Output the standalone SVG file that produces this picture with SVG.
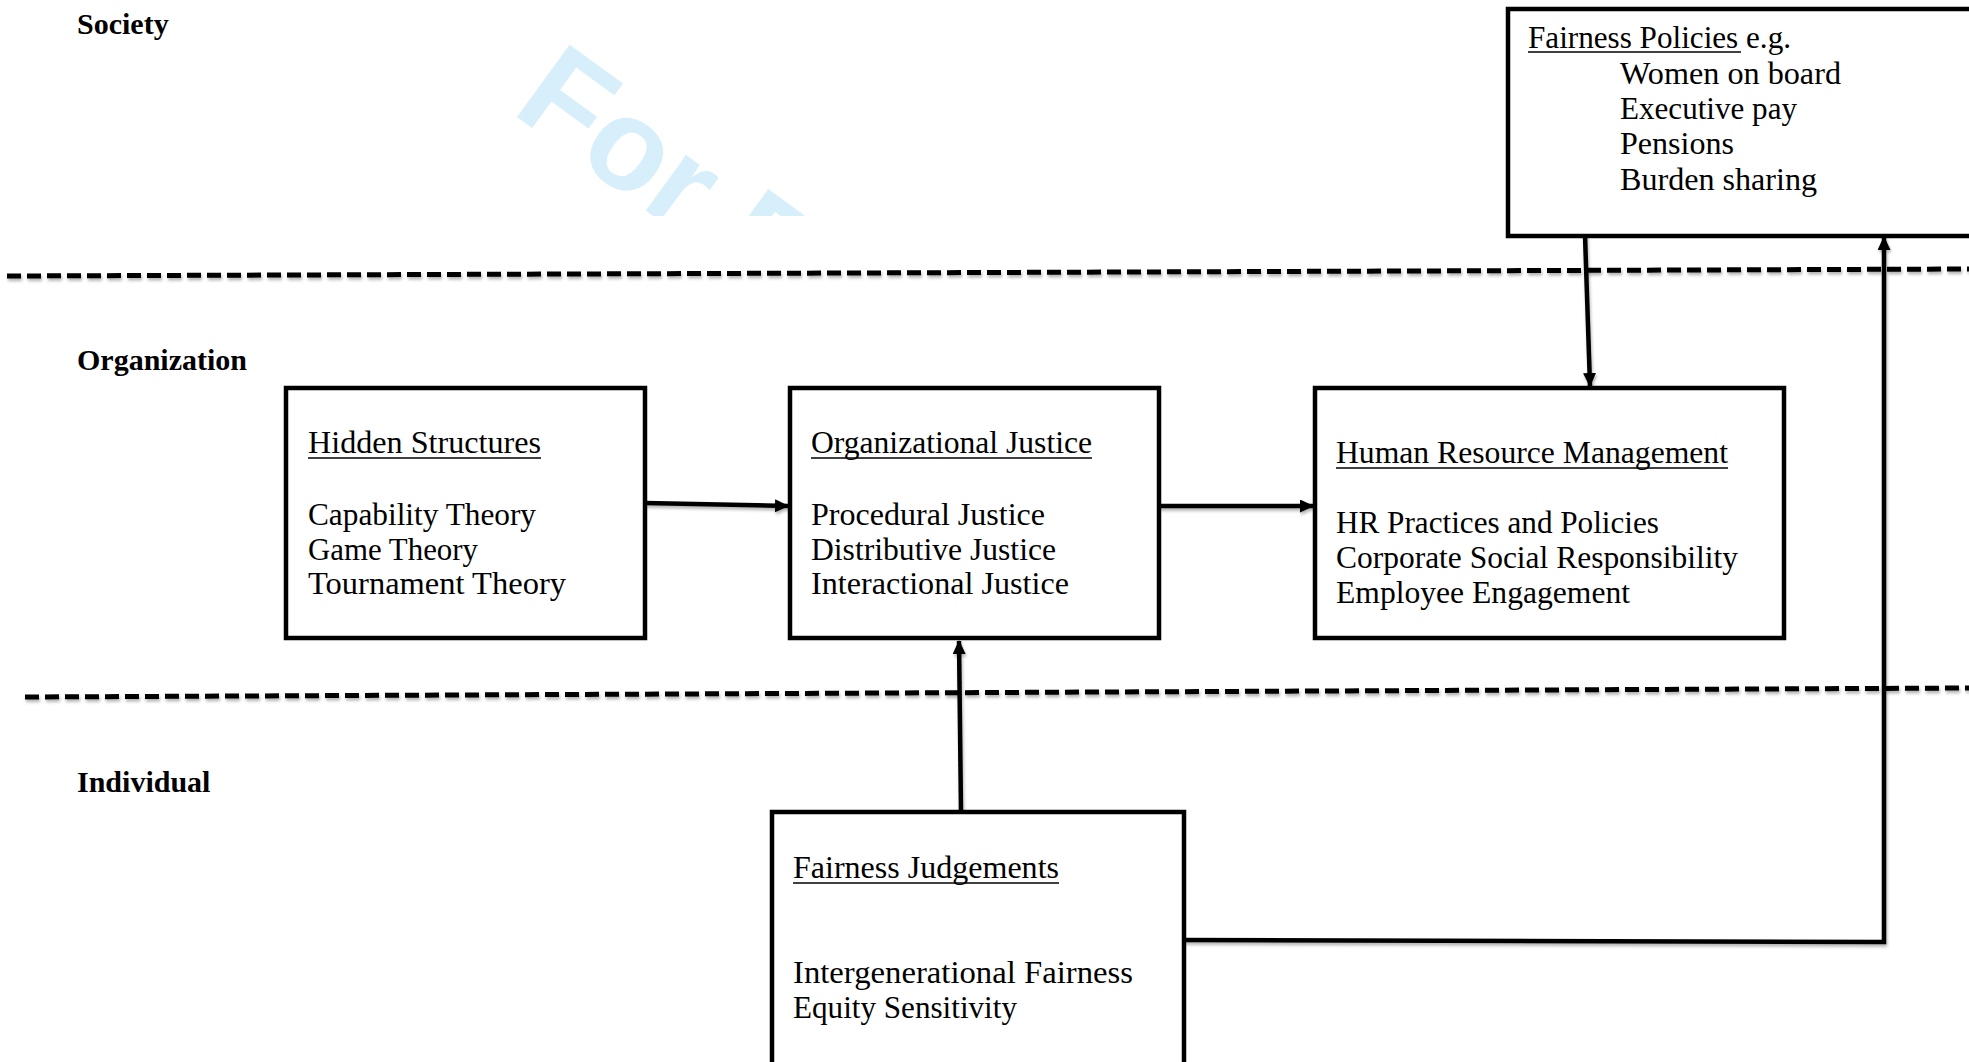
<svg xmlns="http://www.w3.org/2000/svg" width="1969" height="1062" viewBox="0 0 1969 1062">
  <style>
    .lvl { font-family: "Liberation Serif", "Times New Roman", serif; font-weight: bold; font-size: 30px; fill: #000; }
    .txt { font-family: "Liberation Serif", "Times New Roman", serif; font-size: 30.5px; fill: #000; }
    .box { fill: #fff; stroke: #000; stroke-width: 4.5; }
    .ul { stroke: #000; stroke-width: 1.6; }
    .conn { fill: none; stroke: #000; stroke-width: 4.5; }
    .dash { fill: none; stroke: #000; stroke-width: 5; stroke-dasharray: 14 6; }
    .wm { font-family: "Liberation Sans", Arial, sans-serif; font-weight: bold; font-size: 130px; fill: #d6effb; }
  </style>
  <defs>
    <marker id="arrow" viewBox="0 0 14 13" refX="13" refY="6.5" markerWidth="14" markerHeight="13" markerUnits="userSpaceOnUse" orient="auto">
      <path d="M0,0 L14,6.5 L0,13 Z" fill="#000"/>
    </marker>
    <filter id="shadow" x="-5%" y="-50%" width="110%" height="300%">
      <feDropShadow dx="1" dy="2.5" stdDeviation="1.5" flood-color="#000" flood-opacity="0.3"/>
    </filter>
    <clipPath id="wmclip">
      <rect x="0" y="0" width="1969" height="216"/>
    </clipPath>
  </defs>

  <rect x="0" y="0" width="1969" height="1062" fill="#fff"/>

  <!-- watermark -->
  <g id="watermark" clip-path="url(#wmclip)">
    <text class="wm" transform="translate(510,112) rotate(36)">For P</text>
  </g>

  <!-- level labels -->
  <g id="levels">
    <text class="lvl" x="77" y="34">Society</text>
    <text class="lvl" x="77" y="370">Organization</text>
    <text class="lvl" x="77" y="792">Individual</text>
  </g>

  <!-- dashed level separators -->
  <g id="separators" filter="url(#shadow)">
    <path class="dash" d="M7,276 L1969,269"/>
    <path class="dash" d="M25,697 L1969,688"/>
  </g>

  <!-- connectors -->
  <g id="connectors" filter="url(#shadow)">
    <path class="conn" d="M645,503 L788,506" marker-end="url(#arrow)"/>
    <path class="conn" d="M1159,506 L1313,506" marker-end="url(#arrow)"/>
    <path class="conn" d="M1585,235 L1590,386" marker-end="url(#arrow)"/>
    <path class="conn" d="M961,812 L959,641" marker-end="url(#arrow)"/>
    <path class="conn" d="M1184,940 L1884,942 L1884,237" marker-end="url(#arrow)"/>
  </g>

  <!-- nodes -->
  <g id="fairness-policies">
    <rect class="box" x="1508" y="9" width="470" height="227"/>
    <text class="txt" x="1528" y="48" textLength="263" lengthAdjust="spacingAndGlyphs">Fairness Policies e.g.</text>
    <line class="ul" x1="1528" y1="52" x2="1741" y2="52"/>
    <text class="txt" x="1620" y="84" textLength="221" lengthAdjust="spacingAndGlyphs">Women on board</text>
    <text class="txt" x="1620" y="119" textLength="177" lengthAdjust="spacingAndGlyphs">Executive pay</text>
    <text class="txt" x="1620" y="154" textLength="114" lengthAdjust="spacingAndGlyphs">Pensions</text>
    <text class="txt" x="1620" y="190" textLength="197" lengthAdjust="spacingAndGlyphs">Burden sharing</text>
  </g>

  <g id="hidden-structures">
    <rect class="box" x="286" y="388" width="359" height="250"/>
    <text class="txt" x="308" y="453" textLength="233" lengthAdjust="spacingAndGlyphs">Hidden Structures</text>
    <line class="ul" x1="308" y1="458" x2="541" y2="458"/>
    <text class="txt" x="308" y="525" textLength="228" lengthAdjust="spacingAndGlyphs">Capability Theory</text>
    <text class="txt" x="308" y="560" textLength="170" lengthAdjust="spacingAndGlyphs">Game Theory</text>
    <text class="txt" x="308" y="594" textLength="258" lengthAdjust="spacingAndGlyphs">Tournament Theory</text>
  </g>

  <g id="organizational-justice">
    <rect class="box" x="790" y="388" width="369" height="250"/>
    <text class="txt" x="811" y="453" textLength="281" lengthAdjust="spacingAndGlyphs">Organizational Justice</text>
    <line class="ul" x1="811" y1="458" x2="1092" y2="458"/>
    <text class="txt" x="811" y="525" textLength="234" lengthAdjust="spacingAndGlyphs">Procedural Justice</text>
    <text class="txt" x="811" y="560" textLength="245" lengthAdjust="spacingAndGlyphs">Distributive Justice</text>
    <text class="txt" x="811" y="594" textLength="258" lengthAdjust="spacingAndGlyphs">Interactional Justice</text>
  </g>

  <g id="human-resource-management">
    <rect class="box" x="1315" y="388" width="469" height="250"/>
    <text class="txt" x="1336" y="463" textLength="392" lengthAdjust="spacingAndGlyphs">Human Resource Management</text>
    <line class="ul" x1="1336" y1="468" x2="1728" y2="468"/>
    <text class="txt" x="1336" y="533" textLength="323" lengthAdjust="spacingAndGlyphs">HR Practices and Policies</text>
    <text class="txt" x="1336" y="568" textLength="402" lengthAdjust="spacingAndGlyphs">Corporate Social Responsibility</text>
    <text class="txt" x="1336" y="603" textLength="294" lengthAdjust="spacingAndGlyphs">Employee Engagement</text>
  </g>

  <g id="fairness-judgements">
    <rect class="box" x="772" y="812" width="412" height="260"/>
    <text class="txt" x="793" y="878" textLength="266" lengthAdjust="spacingAndGlyphs">Fairness Judgements</text>
    <line class="ul" x1="793" y1="883" x2="1059" y2="883"/>
    <text class="txt" x="793" y="983" textLength="340" lengthAdjust="spacingAndGlyphs">Intergenerational Fairness</text>
    <text class="txt" x="793" y="1018" textLength="224" lengthAdjust="spacingAndGlyphs">Equity Sensitivity</text>
  </g>
</svg>
